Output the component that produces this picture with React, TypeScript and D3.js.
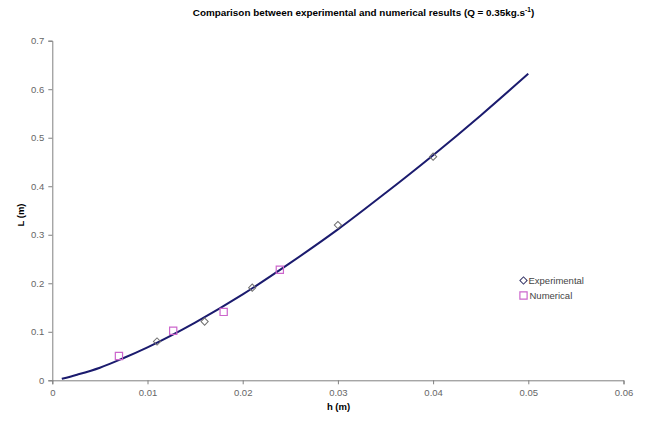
import * as d3 from "d3";
import { useEffect, useRef } from "react";

// values
const curveH = [0.001, 0.0025, 0.005, 0.0075, 0.01, 0.015, 0.02, 0.025, 0.03, 0.035, 0.04, 0.045, 0.05];
const curveL = [0.003, 0.011, 0.026, 0.046, 0.068, 0.119, 0.177, 0.242, 0.311, 0.386, 0.464, 0.546, 0.632];

const expH = [0.011, 0.016, 0.021, 0.03, 0.04];
const expL = [0.08, 0.121, 0.191, 0.32, 0.461];

const numH = [0.007, 0.0127, 0.018, 0.0239];
const numL = [0.05, 0.102, 0.141, 0.228];

const xTicks = [0, 0.01, 0.02, 0.03, 0.04, 0.05, 0.06];
const yTicks = [0, 0.1, 0.2, 0.3, 0.4, 0.5, 0.6, 0.7];

const FONT = "'Liberation Sans', Arial, sans-serif";

const App = () => {
  const svgRef = useRef<SVGSVGElement | null>(null);

  useEffect(() => {
    const svg = d3.select(svgRef.current);
    svg.selectAll("*").remove();

    const x = d3.scaleLinear().domain([0, 0.06]).range([52.3, 623.5]);
    const y = d3.scaleLinear().domain([0, 0.7]).range([380.3, 40.7]);

    // title
    const title = svg
      .append("text")
      .attr("x", 363.5)
      .attr("y", 16)
      .attr("text-anchor", "middle")
      .attr("font-family", FONT)
      .attr("font-size", 9.9)
      .attr("font-weight", "bold")
      .attr("fill", "#000");
    title.append("tspan").text("Comparison between experimental and numerical results (Q = 0.35kg.s");
    title.append("tspan").attr("dy", -4).attr("font-size", 6.5).text("-1");
    title.append("tspan").attr("dy", 4).text(")");

    const xAxis = d3
      .axisBottom(x)
      .tickValues(xTicks)
      .tickSize(4)
      .tickPadding(5)
      .tickFormat((d) => (d === 0 ? "0" : d3.format(".2~f")(d as number)));
    const gX = svg.append("g").attr("transform", `translate(0, ${y(0)})`).call(xAxis);

    const yAxis = d3
      .axisLeft(y)
      .tickValues(yTicks)
      .tickSize(4)
      .tickPadding(4)
      .tickFormat((d) => (d === 0 ? "0" : d3.format(".1f")(d as number)));
    const gY = svg.append("g").attr("transform", `translate(${x(0)}, 0)`).call(yAxis);

    [gX, gY].forEach((g) => {
      g.select(".domain").attr("stroke", "#808080");
      g.selectAll(".tick line").attr("stroke", "#808080");
      g.selectAll(".tick text")
        .attr("fill", "#666")
        .attr("font-family", FONT)
        .attr("font-size", 9.5);
    });

    // axis titles
    svg
      .append("text")
      .attr("x", 338.5)
      .attr("y", 410)
      .attr("text-anchor", "middle")
      .attr("font-family", FONT)
      .attr("font-size", 9.5)
      .attr("font-weight", "bold")
      .text("h (m)");
    svg
      .append("text")
      .attr("transform", `translate(24, 215) rotate(-90)`)
      .attr("text-anchor", "middle")
      .attr("font-family", FONT)
      .attr("font-size", 9.5)
      .attr("font-weight", "bold")
      .text("L (m)");

    // fitted curve
    const line = d3
      .line<number>()
      .x((d, i) => x(curveH[i]))
      .y((d) => y(d))
      .curve(d3.curveMonotoneX);
    svg
      .append("path")
      .datum(curveL)
      .attr("fill", "none")
      .attr("stroke", "#1b1b6e")
      .attr("stroke-width", 2)
      .attr("d", line);

    const diamond = d3.symbol().type(d3.symbolSquare).size(26);
    const square = d3.symbol().type(d3.symbolSquare).size(52);

    // experimental
    svg
      .append("g")
      .selectAll("path")
      .data(expL)
      .enter()
      .append("path")
      .attr("d", diamond)
      .attr("transform", (d, i) => `translate(${x(expH[i])}, ${y(d)}) rotate(45)`)
      .attr("fill", "none")
      .attr("stroke", "#707070")
      .attr("stroke-width", 1);

    // numerical
    svg
      .append("g")
      .selectAll("path")
      .data(numL)
      .enter()
      .append("path")
      .attr("d", square)
      .attr("transform", (d, i) => `translate(${x(numH[i])}, ${y(d)})`)
      .attr("fill", "none")
      .attr("stroke", "#cc66cc")
      .attr("stroke-width", 1.2);

    // legend
    const legend = svg.append("g").attr("font-family", FONT).attr("font-size", 9.5).attr("fill", "#444");
    legend
      .append("path")
      .attr("d", diamond)
      .attr("transform", "translate(523.5, 280.5) rotate(45)")
      .attr("fill", "none")
      .attr("stroke", "#333366");
    legend.append("text").attr("x", 528.5).attr("y", 284).text("Experimental");
    legend
      .append("path")
      .attr("d", square)
      .attr("transform", "translate(523.5, 295.5)")
      .attr("fill", "none")
      .attr("stroke", "#cc66cc")
      .attr("stroke-width", 1.2);
    legend.append("text").attr("x", 529.5).attr("y", 299).text("Numerical");
  }, []);

  return (
    <div style={{ position: "absolute", left: 0, top: 0 }}>
      <svg ref={svgRef} width={646} height={424} style={{ display: "block", background: "#fff" }}></svg>
    </div>
  );
};

export default App;
